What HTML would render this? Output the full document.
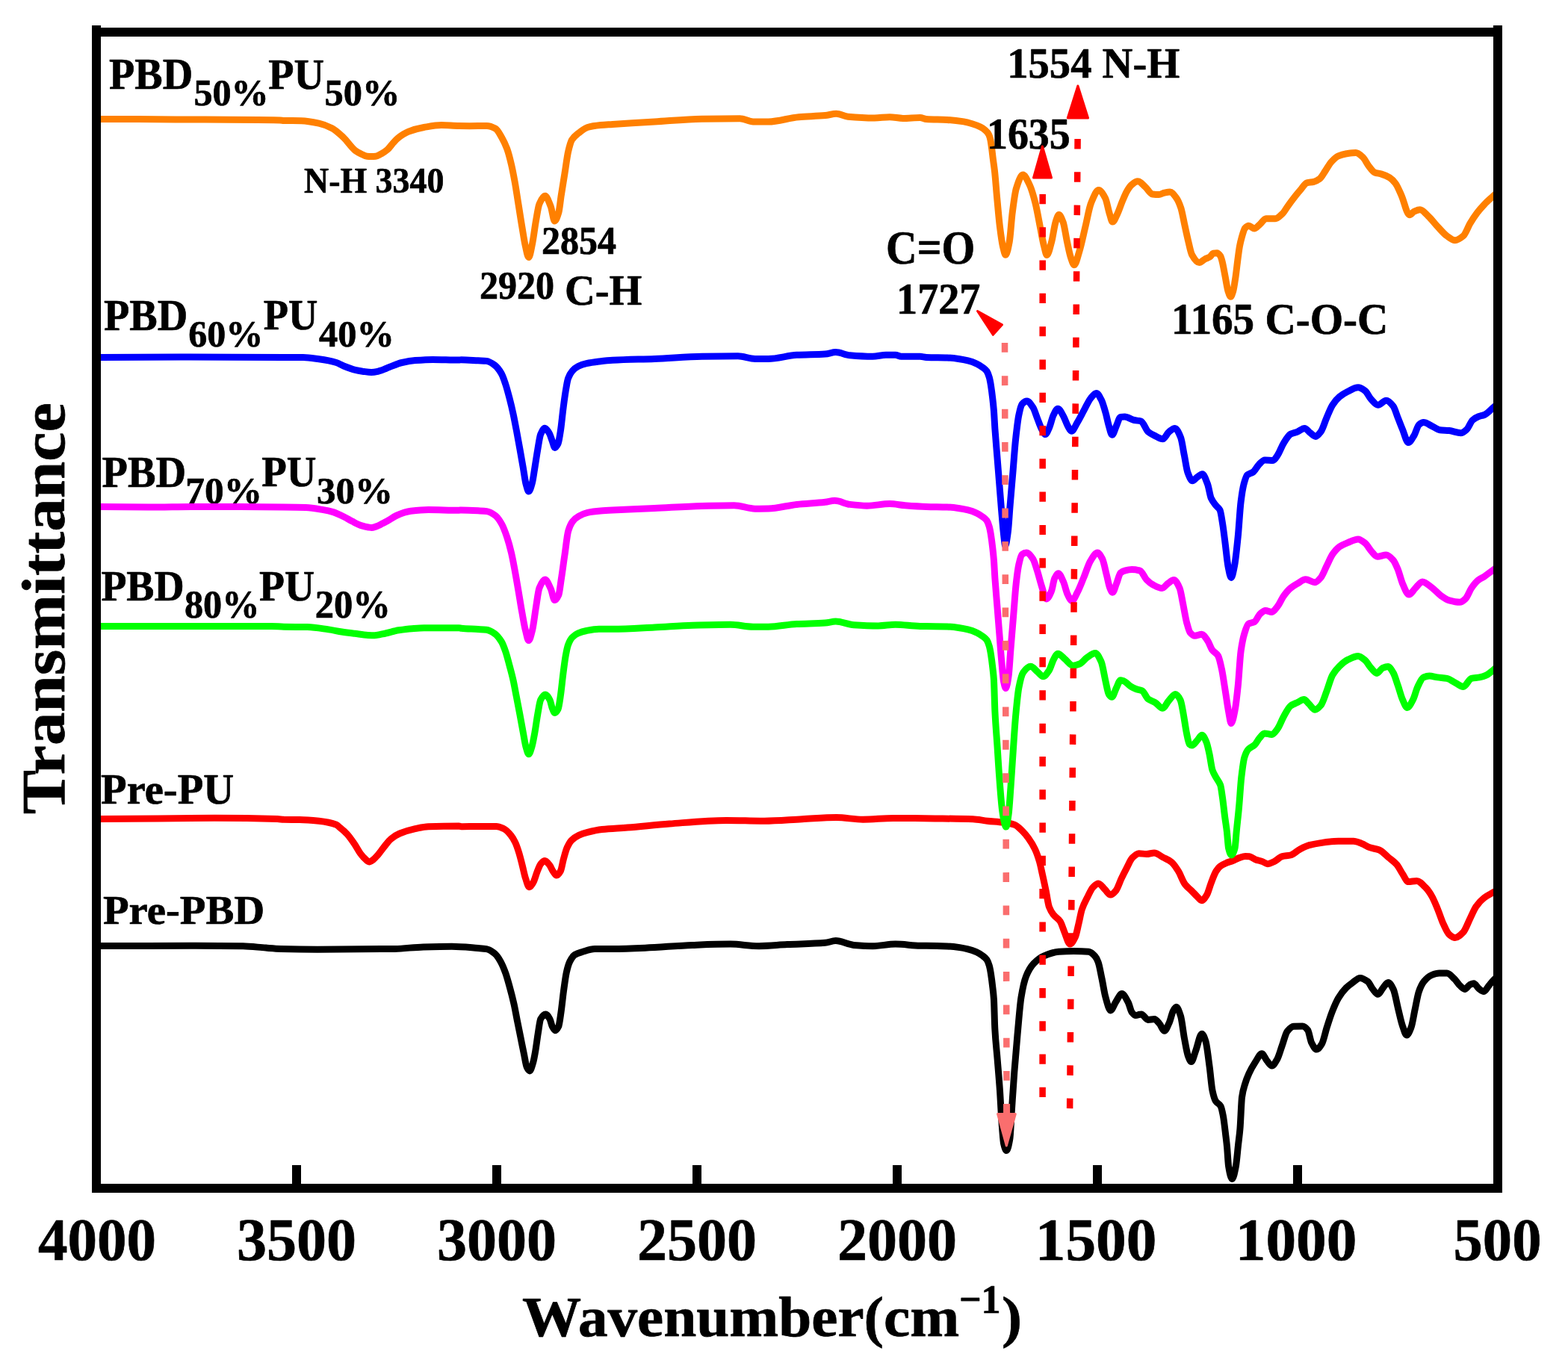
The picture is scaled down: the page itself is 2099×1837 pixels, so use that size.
<!DOCTYPE html><html><head><meta charset="utf-8"><title>FTIR spectra</title><style>html,body{margin:0;padding:0;background:#fff;overflow:hidden;}svg{display:block;}text{font-family:"Liberation Serif","Times New Roman",serif;font-weight:bold;fill:#000;stroke:#000;stroke-width:0.7px;stroke-linejoin:round;}</style></head><body>
<svg width="2099" height="1837" viewBox="0 0 2099 1837">
<rect width="2099" height="1837" fill="#fff"/>
<g id="lbl-below"><text id="l1a" x="146.00" y="118.82" font-size="58.55" textLength="112.12" lengthAdjust="spacingAndGlyphs">PBD</text><text id="l1b" x="259.40" y="141.33" font-size="50.35" textLength="100.37" lengthAdjust="spacingAndGlyphs">50%</text><text id="l1c" x="359.30" y="118.97" font-size="57.26" textLength="74.76" lengthAdjust="spacingAndGlyphs">PU</text><text id="l1d" x="434.40" y="141.33" font-size="50.35" textLength="101.00" lengthAdjust="spacingAndGlyphs">50%</text><text id="l2a" x="139.00" y="442.13" font-size="58.37" textLength="112.12" lengthAdjust="spacingAndGlyphs">PBD</text><text id="l2b" x="252.30" y="464.33" font-size="50.35" textLength="100.10" lengthAdjust="spacingAndGlyphs">60%</text><text id="l2c" x="352.80" y="441.48" font-size="57.31" textLength="72.59" lengthAdjust="spacingAndGlyphs">PU</text><text id="l2d" x="427.10" y="464.33" font-size="50.35" textLength="100.82" lengthAdjust="spacingAndGlyphs">40%</text><text id="l3a" x="136.60" y="652.13" font-size="58.37" textLength="112.51" lengthAdjust="spacingAndGlyphs">PBD</text><text id="l3b" x="248.30" y="674.33" font-size="50.35" textLength="102.70" lengthAdjust="spacingAndGlyphs">70%</text><text id="l3c" x="350.20" y="651.48" font-size="57.31" textLength="73.18" lengthAdjust="spacingAndGlyphs">PU</text><text id="l3d" x="424.00" y="674.33" font-size="50.35" textLength="102.06" lengthAdjust="spacingAndGlyphs">30%</text><text id="l4a" x="135.40" y="804.43" font-size="57.35" textLength="111.18" lengthAdjust="spacingAndGlyphs">PBD</text><text id="l4b" x="247.00" y="826.62" font-size="52.22" textLength="100.43" lengthAdjust="spacingAndGlyphs">80%</text><text id="l4c" x="347.00" y="804.48" font-size="57.31" textLength="74.06" lengthAdjust="spacingAndGlyphs">PU</text><text id="l4d" x="421.70" y="826.62" font-size="52.22" textLength="101.31" lengthAdjust="spacingAndGlyphs">20%</text><text id="l5" x="135.10" y="1076.49" font-size="55.97" textLength="178.05" lengthAdjust="spacingAndGlyphs">Pre-PU</text><text id="l6" x="138.00" y="1237.48" font-size="55.67" textLength="216.16" lengthAdjust="spacingAndGlyphs">Pre-PBD</text></g>
<g fill="none" stroke-width="9" stroke-linejoin="round" stroke-linecap="butt">
<path id="c-black" stroke="#000000" d="M128.0,1266.6 C130.3,1266.6 132.7,1266.6 135.0,1266.6 C177.3,1266.6 219.7,1266.3 262.0,1266.3 C283.2,1266.3 304.3,1266.5 325.5,1266.8 C335.6,1267.0 345.8,1268.4 355.9,1269.1 C362.7,1269.6 369.4,1270.2 376.2,1270.4 C392.3,1270.9 408.4,1271.2 424.5,1271.2 C459.2,1271.2 493.9,1270.9 528.6,1270.4 C541.3,1270.2 554.0,1268.2 566.7,1267.9 C579.4,1267.6 592.1,1267.3 604.8,1267.3 C616.5,1267.3 628.3,1268.6 640.0,1269.5 C643.7,1269.8 647.5,1270.0 651.2,1270.6 C654.9,1271.2 658.6,1273.8 662.3,1276.8 C664.9,1278.9 667.5,1282.9 670.1,1287.4 C672.3,1291.3 674.6,1296.8 676.8,1303.0 C678.7,1308.2 680.5,1315.2 682.4,1322.0 C684.3,1328.8 686.1,1335.9 688.0,1344.3 C689.5,1350.9 690.9,1359.2 692.4,1366.6 C693.9,1374.1 695.4,1381.5 696.9,1388.9 C698.4,1396.3 699.9,1404.1 701.4,1411.2 C702.7,1417.4 704.0,1426.5 705.3,1429.1 C706.5,1431.6 707.8,1433.9 709.0,1433.9 C710.6,1433.9 712.1,1427.7 713.7,1422.4 C714.8,1418.7 715.9,1412.1 717.0,1405.7 C718.1,1399.3 719.2,1390.0 720.3,1383.3 C721.4,1376.4 722.6,1366.4 723.7,1364.4 C725.9,1360.4 728.2,1357.9 730.4,1357.9 C732.3,1357.9 734.1,1361.1 736.0,1364.4 C737.1,1366.3 738.2,1372.3 739.3,1374.4 C740.6,1376.9 741.9,1379.8 743.2,1379.8 C744.7,1379.8 746.2,1377.5 747.7,1374.4 C748.8,1372.1 749.9,1362.8 751.0,1355.4 C752.1,1347.7 753.3,1335.8 754.4,1327.5 C755.7,1318.0 757.0,1307.6 758.3,1301.9 C759.8,1295.4 761.3,1290.3 762.8,1287.4 C765.0,1283.1 767.2,1279.8 769.4,1278.4 C772.8,1276.3 776.1,1275.5 779.5,1274.5 C785.1,1272.8 790.6,1270.6 796.2,1270.6 C804.1,1270.5 812.1,1270.6 820.0,1270.5 C834.5,1270.4 849.0,1269.8 863.5,1269.2 C884.7,1268.4 905.8,1266.1 927.0,1265.4 C943.9,1264.8 960.9,1264.1 977.8,1264.1 C990.5,1264.1 1003.1,1266.7 1015.8,1266.7 C1028.5,1266.7 1041.2,1265.2 1053.9,1264.6 C1070.8,1263.8 1087.8,1263.7 1104.7,1262.3 C1109.4,1261.9 1114.0,1259.6 1118.7,1259.6 C1126.7,1259.6 1134.8,1264.7 1142.8,1265.4 C1151.3,1266.1 1159.7,1266.7 1168.2,1266.7 C1178.4,1266.7 1188.5,1264.1 1198.7,1264.1 C1209.7,1264.1 1220.7,1266.0 1231.7,1266.2 C1234.5,1266.2 1237.2,1266.3 1240.0,1266.3 C1249.3,1266.4 1258.6,1266.6 1267.9,1266.9 C1273.5,1267.1 1279.0,1267.8 1284.6,1268.6 C1288.3,1269.1 1292.1,1269.9 1295.8,1270.8 C1299.5,1271.7 1303.3,1273.0 1307.0,1274.7 C1309.8,1275.9 1312.5,1277.7 1315.3,1279.7 C1317.2,1281.1 1319.0,1282.2 1320.9,1284.8 C1322.0,1286.4 1323.2,1289.3 1324.3,1293.1 C1325.0,1295.6 1325.8,1299.8 1326.5,1304.3 C1327.2,1308.8 1328.0,1314.7 1328.7,1321.0 C1329.3,1325.9 1329.8,1329.4 1330.4,1337.8 C1330.9,1344.7 1331.3,1368.8 1331.8,1377.2 C1332.9,1397.7 1334.1,1404.9 1335.2,1419.0 C1336.3,1432.7 1337.4,1444.8 1338.5,1460.8 C1339.3,1472.9 1340.2,1491.7 1341.0,1502.7 C1341.9,1514.2 1342.7,1527.3 1343.6,1531.1 C1344.8,1536.3 1346.0,1540.5 1347.2,1540.5 C1348.8,1540.5 1350.3,1533.8 1351.9,1524.4 C1352.7,1519.4 1353.6,1498.6 1354.4,1486.0 C1355.5,1468.9 1356.7,1450.7 1357.8,1435.7 C1359.2,1417.1 1360.6,1400.8 1362.0,1385.5 C1363.7,1367.3 1365.3,1345.4 1367.0,1335.3 C1369.2,1321.7 1371.5,1312.4 1373.7,1306.9 C1377.0,1298.6 1380.4,1293.6 1383.7,1290.1 C1388.2,1285.4 1392.6,1282.0 1397.1,1280.1 C1403.8,1277.2 1410.5,1274.7 1417.2,1274.2 C1423.9,1273.7 1430.6,1273.4 1437.3,1273.4 C1444.0,1273.4 1450.7,1273.6 1457.4,1274.2 C1460.2,1274.4 1462.9,1277.1 1465.7,1280.1 C1467.1,1281.6 1468.6,1284.3 1470.0,1288.0 C1471.7,1292.3 1473.3,1302.3 1475.0,1310.2 C1476.7,1318.1 1478.3,1329.5 1480.0,1335.3 C1482.2,1343.1 1484.5,1352.9 1486.7,1352.9 C1488.9,1352.9 1491.2,1345.3 1493.4,1342.0 C1496.2,1337.8 1499.0,1330.6 1501.8,1330.6 C1504.6,1330.6 1507.4,1336.8 1510.2,1342.0 C1511.9,1345.1 1513.5,1353.3 1515.2,1355.4 C1516.9,1357.5 1518.5,1359.6 1520.2,1359.6 C1522.7,1359.6 1525.2,1357.9 1527.7,1357.9 C1530.8,1357.9 1533.8,1365.4 1536.9,1365.4 C1539.7,1365.4 1542.5,1364.6 1545.3,1364.6 C1547.5,1364.6 1549.8,1368.1 1552.0,1370.5 C1554.2,1372.9 1556.5,1380.2 1558.7,1380.2 C1560.9,1380.2 1563.2,1373.7 1565.4,1368.8 C1567.1,1365.1 1568.7,1356.7 1570.4,1353.7 C1571.8,1351.2 1573.2,1348.2 1574.6,1348.2 C1576.6,1348.2 1578.5,1354.3 1580.5,1360.4 C1582.2,1365.6 1583.8,1381.7 1585.5,1390.5 C1587.2,1399.3 1588.8,1409.7 1590.5,1414.0 C1591.9,1417.6 1593.3,1421.5 1594.7,1421.5 C1596.6,1421.5 1598.6,1412.3 1600.5,1407.3 C1603.3,1400.1 1606.1,1384.2 1608.9,1384.2 C1610.6,1384.2 1612.2,1388.9 1613.9,1393.9 C1615.6,1399.0 1617.3,1415.0 1619.0,1427.4 C1620.4,1437.4 1621.7,1454.5 1623.1,1460.8 C1624.5,1467.2 1625.9,1472.0 1627.3,1474.2 C1629.5,1477.7 1631.8,1477.1 1634.0,1480.9 C1635.1,1482.8 1636.3,1488.4 1637.4,1494.3 C1638.5,1500.0 1639.6,1510.4 1640.7,1519.4 C1641.3,1524.3 1641.9,1528.9 1642.5,1535.0 C1643.2,1542.1 1643.9,1557.2 1644.6,1561.4 C1646.2,1571.0 1647.8,1578.5 1649.4,1578.5 C1651.1,1578.5 1652.7,1570.0 1654.4,1561.4 C1655.4,1556.1 1656.5,1542.8 1657.5,1533.5 C1658.3,1526.0 1659.2,1520.8 1660.0,1511.0 C1660.8,1501.2 1661.7,1475.2 1662.5,1469.2 C1663.9,1458.9 1665.4,1455.6 1666.8,1450.9 C1668.5,1445.2 1670.3,1441.0 1672.0,1437.2 C1674.8,1431.0 1677.7,1426.2 1680.5,1421.9 C1683.4,1417.6 1686.2,1410.7 1689.1,1410.7 C1691.4,1410.7 1693.6,1417.4 1695.9,1420.1 C1698.2,1422.8 1700.4,1427.0 1702.7,1427.0 C1705.0,1427.0 1707.3,1422.4 1709.6,1418.4 C1711.9,1414.5 1714.1,1405.9 1716.4,1399.6 C1718.7,1393.3 1720.9,1383.6 1723.2,1380.8 C1726.1,1377.3 1728.9,1374.4 1731.8,1374.3 C1735.8,1374.1 1739.7,1374.0 1743.7,1374.0 C1746.0,1374.0 1748.3,1376.2 1750.6,1379.1 C1752.3,1381.2 1754.0,1392.9 1755.7,1396.2 C1758.0,1400.6 1760.2,1405.1 1762.5,1405.1 C1764.8,1405.1 1767.1,1401.5 1769.4,1397.9 C1771.7,1394.3 1773.9,1382.8 1776.2,1375.7 C1778.5,1368.5 1780.8,1361.1 1783.1,1355.2 C1785.9,1348.0 1788.8,1341.1 1791.6,1336.4 C1795.0,1330.7 1798.5,1326.1 1801.9,1322.7 C1804.7,1319.9 1807.6,1317.9 1810.4,1315.9 C1813.8,1313.5 1817.3,1309.4 1820.7,1309.4 C1824.1,1309.4 1827.5,1311.7 1830.9,1314.2 C1833.2,1315.9 1835.4,1321.7 1837.7,1324.4 C1840.0,1327.2 1842.3,1331.3 1844.6,1331.3 C1846.9,1331.3 1849.1,1325.3 1851.4,1322.7 C1853.7,1320.1 1856.0,1315.5 1858.3,1315.5 C1860.6,1315.5 1862.8,1319.9 1865.1,1324.4 C1867.4,1328.9 1869.6,1342.8 1871.9,1351.8 C1873.6,1358.7 1875.4,1367.2 1877.1,1372.3 C1879.1,1378.1 1881.0,1386.0 1883.0,1386.0 C1885.0,1386.0 1887.0,1380.8 1889.0,1375.7 C1890.7,1371.4 1892.4,1359.7 1894.1,1351.8 C1895.8,1343.8 1897.6,1332.8 1899.3,1327.9 C1901.6,1321.4 1903.8,1317.0 1906.1,1314.2 C1909.5,1310.0 1913.0,1306.9 1916.4,1305.6 C1919.8,1304.3 1923.2,1303.1 1926.6,1303.1 C1930.0,1303.1 1933.5,1303.1 1936.9,1303.1 C1940.3,1303.1 1943.7,1307.6 1947.1,1310.8 C1949.4,1313.0 1951.7,1317.2 1954.0,1319.3 C1956.3,1321.4 1958.5,1324.4 1960.8,1324.4 C1963.1,1324.4 1965.3,1319.6 1967.6,1318.5 C1969.3,1317.7 1971.1,1316.7 1972.8,1316.7 C1975.1,1316.7 1977.3,1321.9 1979.6,1323.6 C1981.9,1325.3 1984.1,1327.5 1986.4,1327.5 C1988.7,1327.5 1991.0,1322.0 1993.3,1319.3 C1995.0,1317.3 1996.7,1315.1 1998.4,1313.3 C2000.9,1310.6 2003.5,1308.4 2006.0,1306.0"/>
<path id="c-red" stroke="#FF0000" d="M128.0,1096.6 C130.3,1096.6 132.7,1096.6 135.0,1096.6 C185.8,1096.6 236.6,1095.3 287.4,1095.3 C315.3,1095.3 343.3,1095.7 371.2,1096.6 C374.1,1096.7 377.1,1097.2 380.0,1097.3 C387.0,1097.4 394.1,1097.4 401.1,1097.5 C409.7,1097.6 418.3,1098.4 426.9,1099.3 C434.7,1100.1 442.5,1101.3 450.3,1104.3 C451.9,1104.9 453.4,1106.7 455.0,1108.0 C458.3,1110.7 461.5,1113.4 464.8,1117.0 C468.0,1120.5 471.3,1125.3 474.5,1130.1 C477.1,1133.9 479.7,1139.1 482.3,1142.6 C484.3,1145.2 486.2,1147.6 488.2,1149.4 C490.2,1151.2 492.1,1153.9 494.1,1153.9 C496.0,1153.9 498.0,1152.2 499.9,1150.8 C501.9,1149.4 503.8,1146.9 505.8,1144.7 C508.4,1141.7 511.0,1137.8 513.6,1134.6 C516.9,1130.6 520.1,1125.9 523.4,1123.2 C527.3,1120.0 531.1,1117.6 535.0,1116.0 C541.9,1113.1 548.9,1111.1 555.8,1109.6 C561.7,1108.4 567.5,1106.9 573.4,1106.7 C587.1,1106.3 600.7,1106.1 614.4,1106.1 C615.4,1106.1 616.5,1106.7 617.5,1106.7 C625.0,1106.7 632.5,1106.4 640.0,1106.4 C648.1,1106.4 656.3,1106.4 664.4,1106.4 C667.7,1106.4 670.9,1108.0 674.2,1109.5 C677.4,1111.0 680.7,1114.4 683.9,1118.3 C685.9,1120.7 687.8,1124.0 689.8,1128.1 C691.4,1131.5 693.1,1136.6 694.7,1141.8 C696.3,1147.0 698.0,1153.9 699.6,1160.3 C700.9,1165.4 702.2,1172.0 703.5,1175.9 C705.1,1180.9 706.8,1187.7 708.4,1187.7 C710.3,1187.7 712.3,1184.1 714.2,1180.8 C715.8,1178.0 717.5,1171.1 719.1,1167.1 C720.7,1163.1 722.4,1158.2 724.0,1156.4 C725.8,1154.4 727.6,1152.5 729.4,1152.5 C731.5,1152.5 733.6,1155.8 735.7,1158.4 C737.3,1160.4 739.0,1164.9 740.6,1167.1 C742.1,1169.1 743.5,1172.0 745.0,1172.0 C746.8,1172.0 748.6,1169.4 750.4,1166.2 C751.7,1163.9 753.0,1155.2 754.3,1150.5 C755.9,1144.7 757.5,1138.4 759.1,1134.9 C761.1,1130.6 763.0,1127.2 765.0,1125.2 C768.3,1121.9 771.5,1119.8 774.8,1118.3 C778.7,1116.5 782.6,1115.4 786.5,1114.4 C793.0,1112.7 799.5,1111.2 806.0,1110.5 C817.3,1109.3 828.7,1109.0 840.0,1108.1 C858.7,1106.6 877.5,1104.4 896.2,1103.0 C921.6,1101.1 947.0,1098.4 972.4,1098.4 C989.3,1098.4 1006.2,1099.2 1023.1,1099.2 C1040.0,1099.2 1057.0,1097.5 1073.9,1096.7 C1089.1,1096.0 1104.4,1094.6 1119.6,1094.6 C1131.5,1094.6 1143.3,1097.2 1155.2,1097.2 C1168.7,1097.2 1182.3,1095.4 1195.8,1095.4 C1214.4,1095.4 1233.1,1095.7 1251.7,1095.9 C1268.6,1096.1 1285.6,1096.2 1302.5,1096.7 C1308.9,1096.9 1315.4,1098.5 1321.8,1099.2 C1329.0,1100.0 1336.3,1100.3 1343.5,1101.3 C1348.4,1101.9 1353.2,1102.6 1358.1,1104.2 C1361.5,1105.3 1364.8,1109.0 1368.2,1112.2 C1371.0,1114.9 1373.8,1118.3 1376.6,1122.2 C1379.5,1126.3 1382.5,1130.7 1385.4,1136.9 C1387.4,1141.0 1389.3,1146.4 1391.3,1153.0 C1392.8,1158.0 1394.2,1165.4 1395.7,1172.0 C1397.2,1178.6 1398.6,1185.4 1400.1,1192.5 C1401.6,1199.6 1403.0,1210.6 1404.5,1214.5 C1406.4,1219.7 1408.4,1222.3 1410.3,1224.8 C1413.2,1228.6 1416.2,1229.2 1419.1,1233.5 C1421.1,1236.4 1423.0,1243.6 1425.0,1248.2 C1427.4,1253.9 1429.9,1264.0 1432.3,1264.0 C1434.7,1264.0 1437.2,1259.2 1439.6,1254.0 C1441.1,1250.9 1442.5,1242.6 1444.0,1236.5 C1445.5,1230.4 1446.9,1221.8 1448.4,1217.4 C1450.8,1210.1 1453.3,1206.1 1455.7,1201.3 C1458.1,1196.5 1460.6,1190.5 1463.0,1188.1 C1465.5,1185.6 1467.9,1183.0 1470.4,1183.0 C1473.3,1183.0 1476.3,1188.3 1479.2,1191.1 C1481.6,1193.4 1484.1,1198.1 1486.5,1198.1 C1488.9,1198.1 1491.4,1195.3 1493.8,1192.5 C1496.2,1189.7 1498.7,1181.5 1501.1,1176.4 C1503.5,1171.3 1506.0,1166.4 1508.4,1161.8 C1510.9,1157.1 1513.3,1151.0 1515.8,1148.6 C1518.7,1145.7 1521.7,1142.7 1524.6,1142.7 C1528.0,1142.7 1531.4,1143.5 1534.8,1143.5 C1538.2,1143.5 1541.7,1142.0 1545.1,1142.0 C1549.0,1142.0 1552.9,1145.8 1556.8,1147.9 C1560.7,1150.0 1564.6,1151.3 1568.5,1154.4 C1571.4,1156.8 1574.4,1161.5 1577.3,1166.2 C1580.2,1170.9 1583.2,1179.8 1586.1,1183.7 C1589.0,1187.6 1592.0,1189.5 1594.9,1192.5 C1597.3,1195.0 1599.8,1197.6 1602.2,1199.9 C1604.4,1202.0 1606.6,1205.7 1608.8,1205.7 C1611.0,1205.7 1613.2,1201.9 1615.4,1198.4 C1617.3,1195.3 1619.3,1187.2 1621.2,1182.3 C1623.4,1176.6 1625.7,1170.0 1627.9,1166.5 C1629.8,1163.6 1631.6,1161.2 1633.5,1159.8 C1636.3,1157.7 1639.1,1156.5 1641.9,1155.3 C1644.7,1154.2 1647.4,1153.6 1650.2,1152.5 C1653.0,1151.4 1655.8,1149.5 1658.6,1148.6 C1661.4,1147.7 1664.2,1146.4 1667.0,1146.4 C1668.8,1146.4 1670.7,1146.5 1672.5,1146.7 C1675.3,1147.0 1678.1,1149.9 1680.9,1150.9 C1683.9,1152.0 1687.0,1152.5 1690.0,1153.6 C1692.3,1154.4 1694.7,1156.7 1697.0,1156.7 C1699.9,1156.7 1702.7,1154.9 1705.6,1153.6 C1709.3,1151.9 1712.9,1147.5 1716.6,1146.6 C1720.2,1145.7 1723.9,1145.9 1727.5,1145.0 C1731.7,1144.0 1735.8,1139.4 1740.0,1137.2 C1744.2,1135.0 1748.3,1132.9 1752.5,1131.7 C1757.7,1130.3 1762.9,1129.3 1768.1,1128.6 C1775.9,1127.5 1783.8,1126.3 1791.6,1126.3 C1798.4,1126.3 1805.1,1126.3 1811.9,1126.3 C1815.5,1126.3 1819.2,1128.1 1822.8,1129.4 C1826.5,1130.7 1830.1,1133.6 1833.8,1134.8 C1838.0,1136.2 1842.1,1136.4 1846.3,1138.0 C1850.5,1139.6 1854.6,1144.6 1858.8,1148.1 C1862.4,1151.1 1866.1,1153.4 1869.7,1157.5 C1872.3,1160.5 1874.9,1166.2 1877.5,1170.0 C1880.1,1173.8 1882.7,1180.6 1885.3,1180.6 C1889.0,1180.6 1892.6,1179.4 1896.3,1179.4 C1900.5,1179.4 1904.6,1184.6 1908.8,1188.8 C1911.4,1191.4 1914.0,1195.3 1916.6,1199.7 C1919.2,1204.1 1921.8,1210.7 1924.4,1216.9 C1927.0,1223.1 1929.6,1231.7 1932.2,1237.2 C1934.8,1242.7 1937.4,1249.1 1940.0,1251.3 C1942.6,1253.5 1945.2,1255.6 1947.8,1255.6 C1951.5,1255.6 1955.1,1251.9 1958.8,1248.1 C1961.9,1244.9 1965.0,1235.6 1968.1,1229.4 C1970.7,1224.2 1973.3,1217.5 1975.9,1213.8 C1979.6,1208.6 1983.2,1204.8 1986.9,1202.0 C1990.8,1199.0 1994.7,1197.2 1998.6,1195.0 C2001.1,1193.6 2003.5,1192.3 2006.0,1191.0"/>
<path id="c-green" stroke="#00FF00" d="M128.0,838.6 C130.3,838.6 132.7,838.6 135.0,838.6 C160.4,838.6 185.8,838.6 211.2,838.6 C262.0,838.6 312.7,838.4 363.5,838.4 C369.0,838.4 374.5,839.2 380.0,839.3 C390.5,839.5 401.1,839.4 411.6,839.6 C421.1,839.8 430.5,841.6 440.0,842.9 C445.9,843.7 451.7,845.1 457.6,846.0 C463.4,846.9 469.3,847.6 475.1,848.3 C481.0,849.1 486.8,850.3 492.7,850.5 C495.6,850.6 498.6,850.7 501.5,850.7 C506.4,850.7 511.3,849.0 516.2,848.0 C522.0,846.8 527.9,844.7 533.7,843.8 C539.6,842.9 545.4,842.1 551.3,841.7 C556.7,841.3 562.1,840.8 567.5,840.8 C583.1,840.8 598.8,840.8 614.4,840.8 C615.4,840.8 616.5,841.1 617.5,841.2 C625.0,841.9 632.5,842.0 640.0,842.5 C643.7,842.7 647.5,842.8 651.2,843.2 C654.9,843.6 658.6,845.9 662.3,848.4 C665.3,850.4 668.2,854.2 671.2,859.0 C673.1,862.0 674.9,867.0 676.8,872.4 C678.7,877.8 680.5,885.5 682.4,892.5 C683.9,898.2 685.4,903.6 686.9,910.3 C688.4,916.8 689.8,925.2 691.3,932.7 C692.8,940.4 694.3,948.1 695.8,956.1 C697.3,964.1 698.8,972.8 700.3,980.7 C701.6,987.6 702.9,996.4 704.2,1000.7 C705.4,1004.7 706.6,1009.7 707.8,1009.7 C709.2,1009.7 710.6,1004.1 712.0,999.6 C713.3,995.4 714.6,987.8 715.9,980.7 C717.2,973.6 718.5,963.2 719.8,956.1 C721.1,949.0 722.4,939.7 723.7,937.1 C725.7,933.1 727.8,929.9 729.8,929.9 C731.9,929.9 733.9,933.3 736.0,937.1 C737.1,939.1 738.2,945.7 739.3,948.3 C740.4,951.0 741.6,954.4 742.7,954.4 C744.2,954.4 745.6,952.3 747.1,949.4 C748.2,947.2 749.4,938.0 750.5,930.4 C751.6,923.0 752.7,911.1 753.8,902.5 C754.9,893.7 756.1,884.2 757.2,878.0 C758.3,872.0 759.4,866.4 760.5,863.5 C762.4,858.5 764.2,855.3 766.1,853.4 C768.7,850.7 771.3,849.0 773.9,847.9 C777.6,846.3 781.4,845.2 785.1,844.5 C790.7,843.4 796.2,842.3 801.8,842.3 C807.9,842.3 813.9,842.3 820.0,842.3 C838.7,842.3 857.5,840.9 876.2,840.0 C893.1,839.2 910.1,837.7 927.0,837.2 C943.9,836.7 960.9,836.2 977.8,836.2 C987.9,836.2 998.1,839.2 1008.2,839.2 C1015.0,839.2 1021.7,839.2 1028.5,839.2 C1041.2,839.2 1053.9,836.0 1066.6,835.4 C1079.3,834.8 1092.0,834.9 1104.7,834.1 C1109.4,833.8 1114.0,832.1 1118.7,832.1 C1126.7,832.1 1134.8,836.2 1142.8,836.7 C1153.8,837.4 1164.8,837.9 1175.8,837.9 C1183.4,837.9 1191.1,836.2 1198.7,836.2 C1209.7,836.2 1220.7,838.4 1231.7,838.4 C1234.5,838.4 1237.2,838.4 1240.0,838.4 C1249.3,838.4 1258.6,838.7 1267.9,839.0 C1273.5,839.2 1279.0,839.9 1284.6,840.7 C1288.3,841.2 1292.1,842.0 1295.8,842.9 C1299.5,843.8 1303.3,845.1 1307.0,846.8 C1309.8,848.0 1312.5,849.8 1315.3,851.8 C1317.2,853.2 1319.0,854.3 1320.9,856.9 C1322.0,858.5 1323.2,861.4 1324.3,865.2 C1325.0,867.7 1325.8,871.9 1326.5,876.4 C1327.2,880.9 1328.0,886.8 1328.7,893.1 C1329.3,898.0 1329.8,901.5 1330.4,909.9 C1330.9,917.3 1331.4,942.4 1331.9,952.6 C1332.9,972.2 1333.8,981.6 1334.8,996.1 C1335.8,1010.6 1336.7,1026.9 1337.7,1039.7 C1338.9,1056.1 1340.2,1073.5 1341.4,1083.2 C1342.4,1090.8 1343.3,1097.0 1344.3,1100.6 C1345.1,1103.6 1345.9,1107.1 1346.7,1107.1 C1347.8,1107.1 1349.0,1098.5 1350.1,1090.4 C1351.1,1083.5 1352.0,1067.4 1353.0,1054.2 C1354.0,1041.0 1354.9,1024.7 1355.9,1010.6 C1357.1,993.1 1358.3,973.0 1359.5,959.8 C1361.0,943.7 1362.4,928.1 1363.9,920.6 C1365.8,910.7 1367.8,902.9 1369.7,900.3 C1373.1,895.7 1376.4,892.3 1379.8,892.3 C1382.7,892.3 1385.6,896.9 1388.5,899.2 C1391.2,901.3 1393.8,905.7 1396.5,905.7 C1399.2,905.7 1401.8,901.4 1404.5,897.4 C1406.4,894.5 1408.4,886.6 1410.3,883.2 C1412.2,879.8 1414.2,875.2 1416.1,875.2 C1419.0,875.2 1421.9,879.4 1424.8,881.7 C1428.7,884.7 1432.5,891.2 1436.4,891.2 C1439.3,891.2 1442.2,890.1 1445.1,889.0 C1448.5,887.7 1451.9,882.5 1455.3,880.3 C1458.9,877.9 1462.6,874.5 1466.2,874.5 C1468.9,874.5 1471.5,880.1 1474.2,886.1 C1476.1,890.5 1478.1,904.0 1480.0,912.2 C1481.4,918.3 1482.9,927.5 1484.3,929.6 C1485.7,931.6 1487.0,933.3 1488.4,933.3 C1490.4,933.3 1492.5,924.8 1494.5,920.9 C1496.3,917.4 1498.2,910.8 1500.0,910.8 C1501.4,910.8 1502.7,911.3 1504.1,911.7 C1507.2,912.7 1510.3,917.0 1513.4,918.8 C1516.0,920.4 1518.7,921.7 1521.3,922.7 C1523.9,923.7 1526.5,923.7 1529.1,925.0 C1531.7,926.3 1534.3,934.0 1536.9,935.9 C1540.0,938.2 1543.2,938.7 1546.3,940.6 C1549.7,942.6 1553.1,948.3 1556.5,948.3 C1559.0,948.3 1561.6,941.6 1564.1,938.8 C1567.2,935.3 1570.4,929.5 1573.5,929.5 C1575.7,929.5 1578.0,933.0 1580.2,937.5 C1581.5,940.2 1582.9,949.2 1584.2,956.2 C1585.5,963.2 1586.9,973.9 1588.2,980.3 C1589.5,986.7 1590.9,995.2 1592.2,996.4 C1593.3,997.4 1594.5,998.1 1595.6,998.1 C1598.0,998.1 1600.5,993.5 1602.9,991.0 C1604.9,988.9 1607.0,984.3 1609.0,984.3 C1611.0,984.3 1613.0,989.1 1615.0,993.7 C1616.3,996.8 1617.7,1003.7 1619.0,1009.8 C1620.3,1015.9 1621.7,1027.3 1623.0,1031.2 C1624.8,1036.5 1626.6,1038.5 1628.4,1041.9 C1630.2,1045.2 1631.9,1046.2 1633.7,1051.3 C1634.6,1053.9 1635.5,1061.3 1636.4,1067.4 C1637.5,1074.9 1638.6,1085.7 1639.7,1094.1 C1640.6,1100.9 1641.5,1105.9 1642.4,1113.5 C1643.1,1119.7 1643.9,1132.8 1644.6,1135.8 C1645.9,1141.1 1647.2,1145.0 1648.5,1145.0 C1650.0,1145.0 1651.5,1141.3 1653.0,1135.8 C1653.7,1133.1 1654.5,1120.8 1655.2,1113.5 C1656.3,1102.2 1657.5,1092.4 1658.6,1080.0 C1659.7,1068.3 1660.7,1049.8 1661.8,1040.6 C1663.2,1028.8 1664.5,1018.1 1665.9,1013.8 C1667.7,1008.2 1669.4,1004.9 1671.2,1003.1 C1673.9,1000.3 1676.5,1000.1 1679.2,997.7 C1681.4,995.7 1683.7,991.0 1685.9,988.4 C1688.1,985.8 1690.4,981.9 1692.6,981.9 C1695.9,981.9 1699.2,983.4 1702.5,983.4 C1705.1,983.4 1707.7,979.1 1710.3,975.6 C1712.9,972.1 1715.5,964.6 1718.1,960.0 C1721.2,954.5 1724.4,947.6 1727.5,945.2 C1730.6,942.8 1733.8,942.0 1736.9,940.5 C1739.8,939.1 1742.6,936.6 1745.5,936.6 C1747.8,936.6 1750.2,940.7 1752.5,942.8 C1755.1,945.2 1757.7,950.3 1760.3,950.3 C1762.9,950.3 1765.5,947.4 1768.1,944.4 C1770.7,941.4 1773.3,932.3 1775.9,925.6 C1778.5,918.8 1781.2,908.4 1783.8,903.8 C1786.9,898.4 1790.0,895.0 1793.1,892.0 C1796.8,888.4 1800.4,885.2 1804.1,883.4 C1808.8,881.1 1813.4,878.4 1818.1,878.4 C1821.2,878.4 1824.4,881.5 1827.5,884.2 C1830.1,886.4 1832.7,891.6 1835.3,894.4 C1837.9,897.2 1840.5,901.4 1843.1,901.4 C1845.7,901.4 1848.3,895.5 1850.9,894.4 C1853.3,893.4 1855.6,892.5 1858.0,892.5 C1860.3,892.5 1862.7,896.8 1865.0,900.6 C1867.1,904.0 1869.2,911.8 1871.3,917.8 C1873.4,923.7 1875.4,932.0 1877.5,936.6 C1879.6,941.2 1881.7,947.5 1883.8,947.5 C1886.4,947.5 1889.0,941.5 1891.6,936.6 C1893.7,932.7 1895.7,923.6 1897.8,919.4 C1900.4,914.1 1903.0,908.0 1905.6,906.9 C1908.2,905.8 1910.8,905.0 1913.4,905.0 C1917.1,905.0 1920.7,906.4 1924.4,906.9 C1928.6,907.5 1932.7,907.6 1936.9,908.4 C1940.5,909.1 1944.2,912.1 1947.8,913.9 C1951.5,915.7 1955.1,919.4 1958.8,919.4 C1962.4,919.4 1966.1,909.3 1969.7,908.4 C1973.3,907.5 1977.0,907.6 1980.6,906.9 C1983.7,906.3 1986.9,905.2 1990.0,903.8 C1992.9,902.5 1995.7,899.8 1998.6,897.5 C2001.1,895.5 2003.5,893.2 2006.0,891.0"/>
<path id="c-magenta" stroke="#FF00FF" d="M128.0,678.6 C130.3,678.6 132.7,678.6 135.0,678.6 C156.2,678.6 177.3,679.1 198.5,679.1 C219.7,679.1 240.8,678.4 262.0,678.4 C301.3,678.4 340.7,678.7 380.0,679.1 C389.8,679.2 399.5,679.3 409.3,679.6 C417.1,679.8 424.9,681.3 432.7,682.6 C437.1,683.3 441.6,684.3 446.0,685.6 C450.7,687.0 455.3,689.5 460.0,691.8 C463.9,693.7 467.8,696.1 471.7,698.1 C475.6,700.1 479.5,702.4 483.4,703.6 C486.7,704.6 489.9,705.5 493.2,706.0 C494.6,706.2 496.1,706.5 497.5,706.5 C499.3,706.5 501.2,705.7 503.0,705.1 C505.6,704.3 508.2,702.9 510.8,701.6 C513.4,700.3 516.0,698.9 518.6,697.5 C522.5,695.3 526.4,692.2 530.3,690.5 C536.8,687.7 543.4,685.1 549.9,684.3 C557.7,683.4 565.6,682.6 573.4,682.6 C587.1,682.6 600.7,683.2 614.4,683.2 C615.4,683.2 616.5,683.0 617.5,683.0 C625.0,683.0 632.5,683.4 640.0,683.8 C643.9,684.0 647.8,684.1 651.7,684.6 C655.6,685.1 659.5,687.6 663.4,690.5 C666.1,692.6 668.9,696.8 671.6,701.6 C674.0,705.8 676.3,712.2 678.7,719.2 C680.6,724.9 682.6,732.1 684.5,740.3 C686.1,746.9 687.6,755.4 689.2,763.8 C690.8,772.2 692.3,781.5 693.9,790.7 C695.5,799.9 697.0,810.1 698.6,818.8 C700.2,827.5 701.7,837.2 703.3,843.4 C704.8,849.2 706.2,857.5 707.7,857.5 C709.4,857.5 711.0,850.0 712.7,843.4 C714.2,837.4 715.8,823.3 717.3,814.1 C718.9,804.7 720.4,791.1 722.0,787.2 C724.5,781.0 727.1,776.0 729.6,776.0 C732.2,776.0 734.7,783.0 737.3,788.4 C739.0,792.1 740.8,803.6 742.5,803.6 C744.3,803.6 746.0,800.6 747.8,796.6 C749.0,794.0 750.1,783.0 751.3,775.5 C752.9,765.4 754.4,753.4 756.0,742.7 C757.6,732.0 759.1,716.3 760.7,711.0 C762.7,704.4 764.6,700.6 766.6,698.1 C769.3,694.7 772.1,692.6 774.8,691.1 C778.7,688.9 782.6,687.2 786.5,686.4 C792.4,685.2 798.2,684.6 804.1,684.1 C809.4,683.7 814.7,683.4 820.0,683.1 C838.7,682.1 857.5,681.4 876.2,680.5 C897.4,679.5 918.5,677.9 939.7,677.4 C954.1,677.1 968.4,676.7 982.8,676.7 C992.1,676.7 1001.5,681.2 1010.8,681.2 C1016.7,681.2 1022.6,681.1 1028.5,681.0 C1041.2,680.8 1053.9,676.7 1066.6,675.4 C1079.3,674.1 1092.0,673.7 1104.7,672.3 C1108.9,671.8 1113.2,670.3 1117.4,670.3 C1124.2,670.3 1130.9,674.6 1137.7,675.4 C1145.3,676.3 1153.0,677.2 1160.6,677.2 C1170.7,677.2 1180.9,674.6 1191.0,674.6 C1197.8,674.6 1204.6,676.2 1211.4,676.7 C1220.9,677.4 1230.5,678.1 1240.0,678.4 C1249.3,678.7 1258.6,678.7 1267.9,679.0 C1273.5,679.2 1279.0,679.9 1284.6,680.7 C1288.3,681.2 1292.1,682.0 1295.8,682.9 C1299.5,683.8 1303.3,685.1 1307.0,686.8 C1309.8,688.0 1312.5,689.8 1315.3,691.8 C1317.2,693.2 1319.0,694.3 1320.9,696.9 C1322.0,698.5 1323.2,701.4 1324.3,705.2 C1325.0,707.7 1325.8,711.9 1326.5,716.4 C1327.2,720.9 1328.0,726.8 1328.7,733.1 C1329.3,738.0 1329.8,742.9 1330.4,749.9 C1330.9,756.1 1331.4,767.1 1331.9,774.3 C1332.9,788.2 1333.8,798.5 1334.8,810.6 C1335.8,822.7 1336.7,834.8 1337.7,846.9 C1338.7,859.0 1339.6,872.5 1340.6,883.2 C1341.6,893.9 1342.5,907.5 1343.5,912.2 C1344.5,916.9 1345.4,921.6 1346.4,921.6 C1347.6,921.6 1348.9,913.3 1350.1,905.0 C1351.1,898.5 1352.0,880.6 1353.0,868.7 C1354.2,853.9 1355.4,839.6 1356.6,825.1 C1357.8,810.6 1359.0,792.3 1360.2,781.6 C1361.4,770.6 1362.7,760.8 1363.9,755.5 C1365.3,749.3 1366.8,743.5 1368.2,742.4 C1370.1,740.9 1372.1,740.0 1374.0,740.0 C1376.9,740.0 1379.8,744.0 1382.7,748.2 C1384.6,751.0 1386.6,758.2 1388.5,764.2 C1390.4,770.2 1392.4,778.7 1394.3,784.5 C1396.5,791.1 1398.7,801.9 1400.9,801.9 C1403.1,801.9 1405.2,796.8 1407.4,791.8 C1408.9,788.4 1410.3,777.2 1411.8,774.3 C1413.5,771.0 1415.1,767.8 1416.8,767.8 C1419.0,767.8 1421.2,774.0 1423.4,778.7 C1425.3,782.8 1427.3,792.3 1429.2,796.1 C1431.1,799.9 1433.1,804.5 1435.0,804.5 C1437.4,804.5 1439.8,797.7 1442.2,793.2 C1445.1,787.8 1448.0,779.9 1450.9,772.9 C1453.8,765.9 1456.8,755.8 1459.7,751.1 C1462.8,746.1 1466.0,740.0 1469.1,740.0 C1471.3,740.0 1473.4,744.1 1475.6,748.2 C1477.5,751.9 1479.5,762.5 1481.4,770.0 C1482.9,775.7 1484.3,784.1 1485.8,787.4 C1487.0,790.1 1488.2,793.2 1489.4,793.2 C1491.1,793.2 1492.8,785.7 1494.5,781.6 C1496.3,777.1 1498.2,768.7 1500.0,767.1 C1501.9,765.4 1503.7,764.6 1505.6,764.1 C1508.7,763.3 1511.9,762.5 1515.0,762.5 C1518.6,762.5 1522.3,763.1 1525.9,764.1 C1529.0,764.9 1532.2,773.5 1535.3,776.6 C1537.9,779.2 1540.5,781.4 1543.1,782.8 C1547.3,785.0 1551.4,787.5 1555.6,787.5 C1558.2,787.5 1560.8,783.1 1563.4,781.3 C1566.0,779.5 1568.7,776.6 1571.3,776.6 C1573.9,776.6 1576.5,781.6 1579.1,787.5 C1580.7,791.0 1582.2,801.8 1583.8,809.4 C1585.3,816.9 1586.9,827.0 1588.4,832.8 C1590.0,838.7 1591.5,845.1 1593.1,846.9 C1595.2,849.4 1597.3,851.3 1599.4,851.3 C1602.5,851.3 1605.7,849.2 1608.8,849.2 C1611.4,849.2 1614.0,854.1 1616.6,857.8 C1618.7,860.8 1620.7,867.5 1622.8,870.3 C1625.4,873.8 1628.0,873.8 1630.6,878.1 C1632.2,880.7 1633.7,888.2 1635.3,895.3 C1636.9,902.4 1638.4,913.8 1640.0,923.4 C1641.6,933.0 1643.1,944.9 1644.7,953.1 C1645.8,959.0 1647.0,968.5 1648.1,968.5 C1649.8,968.5 1651.6,958.7 1653.3,950.0 C1654.6,943.5 1655.9,931.3 1657.2,918.8 C1658.5,906.3 1659.8,881.2 1661.1,871.9 C1662.7,860.7 1664.2,853.5 1665.8,848.4 C1667.6,842.4 1669.5,836.2 1671.3,835.2 C1673.9,833.7 1676.5,834.1 1679.1,832.8 C1681.7,831.5 1684.3,824.1 1686.9,821.9 C1689.2,819.9 1691.6,817.5 1693.9,817.5 C1696.8,817.5 1699.6,819.5 1702.5,819.5 C1705.1,819.5 1707.7,815.0 1710.3,811.7 C1712.9,808.4 1715.5,802.0 1718.1,798.4 C1721.2,794.0 1724.4,790.1 1727.5,787.5 C1730.6,784.9 1733.8,783.1 1736.9,781.3 C1740.5,779.2 1744.2,775.8 1747.8,775.8 C1752.0,775.8 1756.1,779.7 1760.3,779.7 C1762.9,779.7 1765.5,776.4 1768.1,773.4 C1770.7,770.4 1773.3,763.0 1775.9,757.8 C1778.5,752.6 1781.2,745.9 1783.8,742.2 C1786.9,737.8 1790.0,734.1 1793.1,732.0 C1796.8,729.5 1800.4,728.1 1804.1,726.6 C1808.8,724.7 1813.4,721.9 1818.1,721.9 C1821.2,721.9 1824.4,724.8 1827.5,727.3 C1830.1,729.4 1832.7,734.7 1835.3,737.5 C1838.2,740.6 1841.0,745.3 1843.9,745.3 C1847.8,745.3 1851.7,743.0 1855.6,743.0 C1858.7,743.0 1861.9,746.5 1865.0,750.0 C1867.1,752.3 1869.2,757.5 1871.3,762.5 C1873.4,767.5 1875.4,776.7 1877.5,781.3 C1880.4,787.7 1883.2,796.1 1886.1,796.1 C1889.0,796.1 1891.8,790.2 1894.7,787.5 C1897.8,784.5 1901.0,778.9 1904.1,778.9 C1908.3,778.9 1912.4,783.7 1916.6,786.7 C1920.8,789.7 1924.9,794.8 1929.1,797.7 C1932.7,800.2 1936.4,802.9 1940.0,803.9 C1944.7,805.2 1949.4,806.3 1954.1,806.3 C1956.7,806.3 1959.3,804.0 1961.9,801.6 C1964.5,799.3 1967.1,791.2 1969.7,787.5 C1972.8,783.0 1976.0,779.1 1979.1,776.6 C1981.7,774.6 1984.3,773.6 1986.9,771.9 C1990.8,769.3 1994.7,766.1 1998.6,763.3 C2001.1,761.5 2003.5,759.8 2006.0,758.0"/>
<path id="c-blue" stroke="#0000FF" d="M128.0,478.4 C130.3,478.4 132.7,478.4 135.0,478.4 C170.6,478.4 206.1,477.9 241.7,477.9 C287.8,477.9 333.9,478.5 380.0,478.5 C388.6,478.5 397.2,478.5 405.8,478.5 C412.8,478.5 419.9,479.8 426.9,480.8 C434.7,481.9 442.5,483.2 450.3,485.5 C453.5,486.5 456.8,488.7 460.0,490.0 C465.2,492.1 470.4,494.2 475.6,495.4 C478.9,496.2 482.1,496.7 485.4,497.2 C489.3,497.7 493.2,498.5 497.1,498.5 C500.4,498.5 503.6,497.7 506.9,497.0 C510.1,496.3 513.4,494.8 516.6,493.5 C519.9,492.2 523.1,490.6 526.4,489.4 C530.3,487.9 534.2,486.4 538.1,485.5 C544.0,484.2 549.9,483.1 555.8,482.6 C563.6,482.0 571.4,481.4 579.2,481.4 C590.9,481.4 602.7,482.0 614.4,482.0 C615.4,482.0 616.5,481.7 617.5,481.7 C625.0,481.7 632.5,482.4 640.0,482.8 C643.7,483.0 647.5,483.0 651.2,483.4 C654.9,483.8 658.6,486.3 662.3,489.0 C665.3,491.2 668.2,495.0 671.2,500.1 C673.1,503.3 674.9,509.0 676.8,514.6 C678.7,520.2 680.5,527.4 682.4,534.7 C683.9,540.5 685.4,546.8 686.9,553.7 C688.4,560.5 689.8,568.3 691.3,576.0 C692.8,583.9 694.3,592.2 695.8,600.6 C697.3,609.0 698.8,617.6 700.3,626.2 C701.6,633.6 702.9,644.0 704.2,648.6 C705.4,652.9 706.6,658.0 707.8,658.0 C709.4,658.0 710.9,651.9 712.5,646.3 C713.6,642.2 714.8,633.1 715.9,626.2 C717.2,618.3 718.5,609.1 719.8,601.7 C721.1,594.3 722.4,584.7 723.7,581.6 C725.6,577.1 727.4,573.2 729.3,573.2 C731.2,573.2 733.0,576.5 734.9,579.4 C736.4,581.7 737.8,586.7 739.3,590.5 C740.4,593.4 741.6,599.4 742.7,599.4 C744.2,599.4 745.6,596.9 747.1,593.9 C748.2,591.5 749.4,583.4 750.5,576.0 C751.6,568.9 752.7,556.7 753.8,548.1 C754.9,539.3 756.1,530.4 757.2,523.6 C758.3,517.0 759.4,509.8 760.5,506.8 C762.4,501.7 764.2,498.9 766.1,496.8 C768.7,493.9 771.3,491.9 773.9,490.6 C777.6,488.7 781.4,487.5 785.1,486.7 C790.7,485.4 796.2,484.7 801.8,484.0 C807.9,483.3 813.9,482.6 820.0,482.3 C838.7,481.3 857.5,481.1 876.2,480.4 C897.4,479.6 918.5,477.7 939.7,477.3 C955.8,477.0 971.8,476.8 987.9,476.8 C995.5,476.8 1003.2,480.4 1010.8,480.4 C1016.7,480.4 1022.6,480.4 1028.5,480.4 C1041.2,480.4 1053.9,476.0 1066.6,475.3 C1079.3,474.6 1092.0,474.8 1104.7,474.0 C1109.4,473.7 1114.0,471.5 1118.7,471.5 C1125.0,471.5 1131.4,475.3 1137.7,475.8 C1147.9,476.7 1158.0,477.3 1168.2,477.3 C1174.1,477.3 1180.1,475.3 1186.0,475.3 C1190.2,475.3 1194.5,475.3 1198.7,475.3 C1201.2,475.3 1203.8,477.3 1206.3,477.3 C1214.8,477.3 1223.2,477.3 1231.7,477.3 C1234.5,477.3 1237.2,478.3 1240.0,478.4 C1249.3,478.8 1258.6,478.7 1267.9,479.0 C1273.5,479.2 1279.0,479.9 1284.6,480.7 C1288.3,481.2 1292.1,482.0 1295.8,482.9 C1299.5,483.8 1303.3,485.1 1307.0,486.8 C1309.8,488.0 1312.5,489.8 1315.3,491.8 C1317.2,493.2 1319.0,494.3 1320.9,496.9 C1322.0,498.5 1323.2,501.4 1324.3,505.2 C1325.0,507.7 1325.8,511.9 1326.5,516.4 C1327.2,520.9 1328.0,526.8 1328.7,533.1 C1329.3,538.0 1329.8,542.9 1330.4,549.9 C1330.9,556.1 1331.4,567.1 1331.9,574.3 C1332.9,588.2 1333.8,598.5 1334.8,610.6 C1335.8,622.7 1336.7,634.8 1337.7,646.9 C1338.7,659.0 1339.6,671.9 1340.6,683.2 C1341.6,694.5 1342.5,706.9 1343.5,715.1 C1344.2,721.3 1345.0,730.4 1345.7,730.4 C1346.9,730.4 1348.1,721.0 1349.3,712.2 C1350.3,705.1 1351.2,687.6 1352.2,675.9 C1353.4,660.9 1354.7,647.1 1355.9,632.4 C1357.1,618.1 1358.3,600.2 1359.5,588.9 C1361.0,575.1 1362.4,562.3 1363.9,555.5 C1365.3,548.8 1366.8,542.6 1368.2,541.0 C1370.4,538.6 1372.5,537.0 1374.7,537.0 C1377.4,537.0 1380.0,541.3 1382.7,545.3 C1384.6,548.2 1386.6,555.0 1388.5,559.8 C1390.4,564.6 1392.4,570.8 1394.3,574.3 C1396.0,577.4 1397.7,581.6 1399.4,581.6 C1401.1,581.6 1402.8,576.6 1404.5,572.9 C1406.4,568.7 1408.4,559.2 1410.3,555.5 C1412.2,551.8 1414.2,547.2 1416.1,547.2 C1418.5,547.2 1421.0,552.8 1423.4,556.9 C1425.3,560.2 1427.3,566.7 1429.2,570.0 C1430.9,572.9 1432.6,577.2 1434.3,577.2 C1436.9,577.2 1439.6,569.9 1442.2,565.6 C1445.1,560.9 1448.0,555.0 1450.9,549.7 C1453.8,544.4 1456.8,537.3 1459.7,533.7 C1462.3,530.5 1465.0,526.4 1467.6,526.4 C1469.8,526.4 1472.0,531.1 1474.2,535.2 C1476.1,538.8 1478.1,545.9 1480.0,552.6 C1481.4,557.6 1482.9,565.3 1484.3,570.0 C1485.8,574.9 1487.2,582.3 1488.7,582.3 C1490.6,582.3 1492.6,574.1 1494.5,570.0 C1496.3,566.1 1498.2,558.6 1500.0,558.4 C1501.9,558.2 1503.7,558.1 1505.6,558.1 C1509.8,558.1 1513.9,561.6 1518.1,562.5 C1521.2,563.2 1524.4,563.1 1527.5,564.0 C1530.6,564.9 1533.8,575.5 1536.9,578.1 C1540.0,580.7 1543.2,582.1 1546.3,583.6 C1549.7,585.2 1553.0,587.8 1556.4,587.8 C1559.3,587.8 1562.1,580.3 1565.0,578.1 C1567.6,576.1 1570.2,573.4 1572.8,573.4 C1575.4,573.4 1578.0,579.3 1580.6,585.9 C1582.2,589.9 1583.7,601.6 1585.3,609.4 C1586.9,617.2 1588.4,628.7 1590.0,632.8 C1592.1,638.4 1594.2,643.8 1596.3,643.8 C1598.4,643.8 1600.4,640.5 1602.5,639.1 C1604.8,637.5 1607.2,634.8 1609.5,634.8 C1611.9,634.8 1614.2,642.1 1616.6,648.4 C1618.2,652.6 1619.7,663.7 1621.3,667.2 C1623.4,671.8 1625.4,673.9 1627.5,676.6 C1629.3,679.0 1631.2,679.3 1633.0,682.8 C1634.3,685.3 1635.6,695.0 1636.9,703.1 C1637.9,709.5 1639.0,718.6 1640.0,726.6 C1641.3,736.7 1642.6,751.2 1643.9,757.8 C1645.3,764.9 1646.7,773.4 1648.1,773.4 C1649.6,773.4 1651.0,765.1 1652.5,757.8 C1654.1,750.1 1655.6,734.3 1657.2,718.8 C1658.5,706.0 1659.8,682.3 1661.1,671.9 C1662.4,661.5 1663.7,653.3 1665.0,648.4 C1666.6,642.5 1668.1,637.3 1669.7,635.9 C1672.3,633.6 1674.9,633.9 1677.5,632.0 C1680.1,630.1 1682.7,624.4 1685.3,621.9 C1687.9,619.4 1690.5,616.0 1693.1,616.0 C1696.8,616.0 1700.4,616.4 1704.1,616.4 C1706.2,616.4 1708.2,612.4 1710.3,609.4 C1712.9,605.7 1715.5,598.0 1718.1,593.8 C1721.2,588.8 1724.4,583.0 1727.5,581.3 C1730.6,579.6 1733.8,579.4 1736.9,578.1 C1740.0,576.8 1743.2,573.4 1746.3,573.4 C1748.9,573.4 1751.5,577.8 1754.1,579.7 C1756.4,581.4 1758.8,584.4 1761.1,584.4 C1763.4,584.4 1765.8,581.1 1768.1,578.1 C1770.7,574.7 1773.3,565.3 1775.9,559.4 C1778.5,553.4 1781.2,546.2 1783.8,542.2 C1786.9,537.4 1790.0,533.9 1793.1,531.3 C1796.8,528.2 1800.4,526.0 1804.1,524.2 C1808.8,521.9 1813.4,518.8 1818.1,518.8 C1821.2,518.8 1824.4,521.1 1827.5,523.4 C1830.1,525.3 1832.7,531.7 1835.3,534.4 C1838.4,537.7 1841.6,542.2 1844.7,542.2 C1848.3,542.2 1852.0,536.3 1855.6,536.3 C1858.7,536.3 1861.9,539.9 1865.0,543.8 C1867.1,546.4 1869.2,554.2 1871.3,559.4 C1873.4,564.6 1875.4,570.1 1877.5,575.0 C1880.1,581.2 1882.7,592.5 1885.3,592.5 C1887.9,592.5 1890.5,587.0 1893.1,582.8 C1895.2,579.4 1897.3,570.6 1899.4,568.8 C1901.5,567.1 1903.5,565.6 1905.6,565.6 C1909.3,565.6 1912.9,568.6 1916.6,570.3 C1920.2,572.0 1923.9,575.4 1927.5,575.8 C1931.7,576.3 1935.8,576.2 1940.0,576.6 C1945.2,577.1 1950.4,579.7 1955.6,579.7 C1958.2,579.7 1960.8,577.3 1963.4,575.0 C1966.0,572.7 1968.7,564.8 1971.3,562.5 C1973.9,560.2 1976.5,558.8 1979.1,557.8 C1981.7,556.8 1984.3,556.6 1986.9,555.5 C1990.8,553.9 1994.7,549.3 1998.6,546.1 C2001.1,544.1 2003.5,542.0 2006.0,540.0"/>
<path id="c-orange" stroke="#FF8000" d="M128.0,159.4 C130.3,159.4 132.7,159.4 135.0,159.4 C168.3,159.4 201.7,159.7 235.0,159.9 C281.7,160.2 328.3,160.1 375.0,161.0 C376.7,161.0 378.3,161.4 380.0,161.4 C387.8,161.6 395.6,161.5 403.4,161.7 C411.2,161.9 419.1,163.5 426.9,165.2 C432.8,166.5 438.6,168.7 444.5,171.7 C449.6,174.3 454.6,179.3 459.7,184.0 C465.0,188.9 470.3,197.7 475.6,201.6 C478.2,203.5 480.8,204.9 483.4,206.1 C486.0,207.3 488.7,209.0 491.3,209.2 C493.2,209.4 495.1,209.5 497.0,209.5 C499.0,209.5 501.0,209.4 503.0,209.2 C505.6,209.0 508.2,207.1 510.8,205.7 C513.4,204.3 516.0,202.6 518.6,200.4 C521.2,198.2 523.8,194.1 526.4,191.3 C528.4,189.1 530.3,186.8 532.3,185.2 C537.0,181.4 541.7,178.3 546.4,176.4 C553.4,173.6 560.5,171.7 567.5,170.5 C575.3,169.2 583.1,167.6 590.9,167.6 C598.7,167.6 606.6,168.5 614.4,168.6 C619.1,168.7 623.8,168.7 628.5,168.7 C636.2,168.7 644.0,168.5 651.7,168.5 C655.6,168.5 659.5,170.2 663.4,172.3 C666.1,173.8 668.9,179.3 671.6,184.0 C674.0,188.1 676.3,192.8 678.7,199.2 C680.6,204.5 682.6,212.1 684.5,220.3 C686.1,226.9 687.6,235.1 689.2,243.8 C690.8,252.5 692.3,263.2 693.9,273.0 C695.5,282.8 697.0,293.0 698.6,302.4 C700.2,311.8 701.7,322.6 703.3,329.3 C704.8,335.6 706.2,344.5 707.7,344.5 C709.4,344.5 711.0,333.7 712.7,325.8 C714.2,318.5 715.8,305.1 717.3,296.5 C718.9,287.7 720.4,276.6 722.0,273.0 C724.5,267.2 727.1,262.3 729.6,262.3 C732.2,262.3 734.7,270.1 737.3,276.6 C739.0,281.0 740.8,296.0 742.5,296.0 C744.3,296.0 746.0,290.7 747.8,284.8 C749.0,280.9 750.1,268.9 751.3,261.3 C752.9,251.2 754.4,241.8 756.0,232.0 C757.6,222.2 759.1,209.4 760.7,202.7 C762.3,196.0 763.8,190.0 765.4,187.5 C768.5,182.4 771.7,180.6 774.8,178.1 C778.7,175.0 782.6,171.6 786.5,170.5 C792.3,168.9 798.2,168.2 804.0,167.6 C809.3,167.1 814.7,166.8 820.0,166.4 C838.7,165.1 857.5,164.1 876.2,163.0 C897.4,161.7 918.5,159.5 939.7,159.2 C956.6,158.9 973.5,158.7 990.4,158.7 C996.3,158.7 1002.3,163.0 1008.2,163.0 C1015.0,163.0 1021.7,163.0 1028.5,163.0 C1042.1,163.0 1055.6,157.8 1069.2,156.7 C1081.0,155.7 1092.9,155.7 1104.7,154.6 C1109.6,154.1 1114.6,152.3 1119.5,152.3 C1124.7,152.3 1130.0,155.7 1135.2,156.2 C1147.0,157.3 1158.9,158.0 1170.7,158.0 C1177.5,158.0 1184.2,156.7 1191.0,156.7 C1196.9,156.7 1202.9,158.4 1208.8,158.4 C1216.4,158.4 1224.1,157.4 1231.7,157.4 C1234.5,157.4 1237.2,159.3 1240.0,159.5 C1249.3,160.1 1258.6,159.9 1267.9,160.4 C1275.3,160.8 1282.8,161.7 1290.2,162.9 C1293.9,163.5 1297.7,164.6 1301.4,165.7 C1305.1,166.8 1308.8,168.2 1312.5,170.1 C1314.7,171.2 1317.0,172.6 1319.2,174.6 C1320.7,175.9 1322.2,177.3 1323.7,180.2 C1324.4,181.6 1325.2,184.1 1325.9,187.4 C1326.5,189.9 1327.0,194.5 1327.6,198.6 C1328.2,202.7 1328.7,208.0 1329.3,212.5 C1330.0,218.3 1330.8,222.7 1331.5,229.3 C1332.6,238.9 1333.6,254.1 1334.7,265.5 C1336.0,279.1 1337.2,293.9 1338.5,304.0 C1339.8,314.4 1341.1,324.3 1342.4,329.7 C1343.7,335.0 1344.9,341.3 1346.2,341.3 C1347.9,341.3 1349.6,332.3 1351.3,323.3 C1352.6,316.4 1353.9,294.9 1355.2,284.8 C1356.9,271.6 1358.6,258.2 1360.3,252.7 C1363.3,242.9 1366.3,234.1 1369.3,234.1 C1372.3,234.1 1375.3,241.4 1378.3,247.6 C1380.9,252.9 1383.4,262.0 1386.0,272.0 C1388.1,280.3 1390.3,293.4 1392.4,304.0 C1394.1,312.6 1395.9,323.2 1397.6,329.7 C1398.9,334.5 1400.1,341.5 1401.4,341.5 C1403.5,341.5 1405.7,331.1 1407.8,323.3 C1409.5,317.0 1411.3,302.9 1413.0,297.6 C1414.5,293.0 1416.0,287.4 1417.5,287.4 C1419.4,287.4 1421.3,292.6 1423.2,297.6 C1424.9,302.2 1426.7,315.4 1428.4,323.3 C1430.1,331.1 1431.8,340.3 1433.5,345.1 C1435.0,349.4 1436.5,354.8 1438.0,354.8 C1440.3,354.8 1442.7,343.6 1445.0,336.1 C1447.6,327.7 1450.2,314.8 1452.8,304.0 C1455.4,293.4 1457.9,278.3 1460.5,272.0 C1463.9,263.6 1467.3,254.6 1470.7,254.6 C1473.7,254.6 1476.7,259.8 1479.7,265.5 C1481.4,268.8 1483.2,279.3 1484.9,284.8 C1486.4,289.4 1487.8,297.0 1489.3,297.0 C1491.6,297.0 1493.8,290.3 1496.1,285.7 C1498.2,281.5 1500.2,274.7 1502.3,269.8 C1504.3,265.0 1506.4,259.8 1508.4,256.3 C1510.4,252.8 1512.5,249.4 1514.5,247.7 C1517.4,245.3 1520.2,242.8 1523.1,242.8 C1526.4,242.8 1529.7,247.3 1533.0,250.1 C1536.3,252.9 1539.5,259.6 1542.8,260.0 C1545.7,260.4 1548.5,260.6 1551.4,260.6 C1553.8,260.6 1556.3,258.6 1558.7,258.1 C1561.2,257.6 1563.6,257.0 1566.1,257.0 C1569.0,257.0 1571.8,261.1 1574.7,264.9 C1576.7,267.6 1578.8,272.3 1580.8,278.4 C1582.4,283.3 1584.1,293.2 1585.7,300.5 C1587.3,307.8 1589.0,315.8 1590.6,322.5 C1592.2,329.2 1593.9,338.1 1595.5,341.0 C1598.8,346.9 1602.1,351.6 1605.4,351.6 C1607.8,351.6 1610.3,348.4 1612.7,347.1 C1615.1,345.8 1617.6,345.3 1620.0,343.6 C1621.3,342.7 1622.7,339.3 1624.0,339.1 C1625.7,338.9 1627.3,338.8 1629.0,338.8 C1630.5,338.8 1632.1,340.5 1633.6,342.6 C1634.4,343.7 1635.3,347.0 1636.1,350.1 C1637.4,355.0 1638.8,363.5 1640.1,370.2 C1641.4,376.9 1642.8,386.4 1644.1,390.3 C1645.2,393.5 1646.3,397.3 1647.4,397.3 C1648.5,397.3 1649.5,393.7 1650.6,390.3 C1651.8,386.6 1652.9,378.1 1654.1,370.2 C1654.9,364.6 1655.8,356.4 1656.6,350.1 C1657.5,343.0 1658.5,335.0 1659.4,330.0 C1660.3,325.0 1661.3,321.2 1662.2,318.0 C1663.7,312.8 1665.2,307.0 1666.7,305.4 C1668.3,303.7 1670.0,302.3 1671.6,302.3 C1674.1,302.3 1676.5,306.0 1679.0,306.0 C1681.5,306.0 1683.9,302.5 1686.4,300.5 C1689.2,298.2 1691.9,292.8 1694.7,292.8 C1698.9,292.8 1703.0,292.8 1707.2,292.8 C1710.3,292.8 1713.5,289.2 1716.6,286.3 C1719.2,283.9 1721.8,278.9 1724.4,275.3 C1727.5,271.0 1730.7,266.8 1733.8,262.8 C1736.4,259.5 1739.0,256.4 1741.6,253.4 C1744.2,250.4 1746.8,245.5 1749.4,244.8 C1752.5,243.9 1755.7,244.1 1758.8,243.3 C1761.4,242.7 1764.0,241.3 1766.6,239.4 C1769.2,237.5 1771.8,232.2 1774.4,228.4 C1777.0,224.6 1779.6,219.5 1782.2,216.7 C1785.3,213.3 1788.5,210.2 1791.6,208.9 C1795.2,207.3 1798.9,206.4 1802.5,205.8 C1806.7,205.2 1810.8,204.5 1815.0,204.5 C1818.1,204.5 1821.3,207.7 1824.4,210.5 C1827.0,212.9 1829.6,218.9 1832.2,222.2 C1834.8,225.5 1837.4,229.7 1840.0,230.8 C1843.1,232.1 1846.3,232.1 1849.4,233.1 C1853.0,234.2 1856.7,235.6 1860.3,237.8 C1862.9,239.4 1865.5,242.1 1868.1,245.6 C1870.7,249.1 1873.3,255.6 1875.9,261.3 C1879.6,269.3 1883.2,287.8 1886.9,287.8 C1889.0,287.8 1891.0,284.0 1893.1,283.1 C1895.7,282.0 1898.3,280.8 1900.9,280.8 C1904.6,280.8 1908.2,286.0 1911.9,289.4 C1916.1,293.2 1920.2,299.0 1924.4,303.4 C1928.6,307.8 1932.7,313.0 1936.9,315.9 C1940.5,318.4 1944.2,321.7 1947.8,321.7 C1951.5,321.7 1955.1,319.0 1958.8,315.9 C1961.9,313.3 1965.0,303.9 1968.1,298.8 C1971.2,293.6 1974.4,288.8 1977.5,284.7 C1980.6,280.6 1983.8,277.1 1986.9,273.8 C1990.8,269.7 1994.7,266.4 1998.6,262.8 C2001.1,260.5 2003.5,258.3 2006.0,256.0"/>
</g>
<g id="lbl-above"><text id="a1" x="407.00" y="258.03" font-size="48.22" textLength="187.34" lengthAdjust="spacingAndGlyphs">N-H 3340</text><text id="a2" x="725.00" y="339.97" font-size="52.72" textLength="100.10" lengthAdjust="spacingAndGlyphs">2854</text><text id="a3" x="641.90" y="400.48" font-size="51.93" textLength="100.23" lengthAdjust="spacingAndGlyphs">2920</text><text id="a4" x="756.00" y="408.41" font-size="57.38" textLength="103.21" lengthAdjust="spacingAndGlyphs">C-H</text><text id="a5" x="1186.10" y="353.39" font-size="62.44" textLength="119.19" lengthAdjust="spacingAndGlyphs">C=O</text><text id="a6" x="1200.10" y="420.00" font-size="60.14" textLength="112.26" lengthAdjust="spacingAndGlyphs">1727</text><text id="a7" x="1321.00" y="198.91" font-size="58.55" textLength="111.73" lengthAdjust="spacingAndGlyphs">1635</text><text id="a8" x="1348.30" y="104.41" font-size="57.94" textLength="230.91" lengthAdjust="spacingAndGlyphs">1554 N-H</text><text id="a9" x="1568.10" y="446.91" font-size="58.55" textLength="290.24" lengthAdjust="spacingAndGlyphs">1165 C-O-C</text><text id="t4000" x="130.00" y="1686.68" font-size="80.80" textLength="158.11" lengthAdjust="spacingAndGlyphs" text-anchor="middle">4000</text><text id="t3500" x="397.00" y="1686.68" font-size="80.80" textLength="160.24" lengthAdjust="spacingAndGlyphs" text-anchor="middle">3500</text><text id="t3000" x="665.00" y="1686.68" font-size="80.80" textLength="160.24" lengthAdjust="spacingAndGlyphs" text-anchor="middle">3000</text><text id="t2500" x="933.00" y="1686.68" font-size="80.80" textLength="160.24" lengthAdjust="spacingAndGlyphs" text-anchor="middle">2500</text><text id="t2000" x="1201.00" y="1686.68" font-size="80.80" textLength="160.24" lengthAdjust="spacingAndGlyphs" text-anchor="middle">2000</text><text id="t1500" x="1467.00" y="1686.68" font-size="80.80" textLength="162.50" lengthAdjust="spacingAndGlyphs" text-anchor="middle">1500</text><text id="t1000" x="1735.00" y="1686.68" font-size="80.80" textLength="162.50" lengthAdjust="spacingAndGlyphs" text-anchor="middle">1000</text><text id="t500" x="2004.50" y="1686.68" font-size="80.80" textLength="117.84" lengthAdjust="spacingAndGlyphs" text-anchor="middle">500</text><text id="yl" transform="translate(86.18,1090.20) rotate(-90)" x="0" y="0" font-size="82.39" textLength="551.13" lengthAdjust="spacingAndGlyphs">Transmittance</text><text id="xl" x="699.10" y="1788.82" font-size="75.08" textLength="585.01" lengthAdjust="spacingAndGlyphs">Wavenumber(cm</text><text id="xs" x="1283.90" y="1758.10" font-size="54.87" textLength="55.71" lengthAdjust="spacingAndGlyphs" font-weight="normal">−1</text><text id="xp" x="1341.00" y="1788.80" font-size="76.55" textLength="27.19" lengthAdjust="spacingAndGlyphs" font-weight="normal">)</text></g>
<g fill="none" stroke-width="8.5" stroke-linecap="butt">
<line x1="1345" y1="459" x2="1347.6" y2="1491" stroke="#FA6E6E" stroke-dasharray="12.8 31.52"/>
<line x1="1395.7" y1="260" x2="1395.6" y2="1470" stroke="#FF0000" stroke-dasharray="13.2 31.09"/>
<line x1="1442.6" y1="186" x2="1432.1" y2="1485" stroke="#FF0000" stroke-dasharray="13.5 30.8"/>
</g>
<g stroke-linejoin="round" stroke-width="3">
<polygon points="1308.5,416.5 1341.5,434.7 1329.3,448.3" fill="#FF0000" stroke="#FF0000"/>
<polygon points="1395.4,196 1383.5,238 1407.5,238" fill="#FF0000" stroke="#FF0000"/>
<polygon points="1442.9,115 1429.3,158 1456.5,158" fill="#FF0000" stroke="#FF0000"/>
<polygon points="1335.6,1491.5 1359.3,1491.5 1347.3,1534" fill="#FA6E6E" stroke="#FA6E6E"/>
<rect x="1343.1" y="1478" width="9" height="13" fill="#FA6E6E" stroke="none"/>
</g>
<g fill="#000">
<rect x="123" y="34" width="12" height="1563"/>
<rect x="1999" y="34" width="12" height="1563"/>
<rect x="123" y="37" width="1888" height="12"/>
<rect x="123" y="1585" width="1888" height="12"/>
<rect x="391.0" y="1560" width="12" height="26"/>
<rect x="659.0" y="1560" width="12" height="26"/>
<rect x="927.0" y="1560" width="12" height="26"/>
<rect x="1195.0" y="1560" width="12" height="26"/>
<rect x="1463.0" y="1560" width="12" height="26"/>
<rect x="1731.0" y="1560" width="12" height="26"/>
</g>
</svg></body></html>
